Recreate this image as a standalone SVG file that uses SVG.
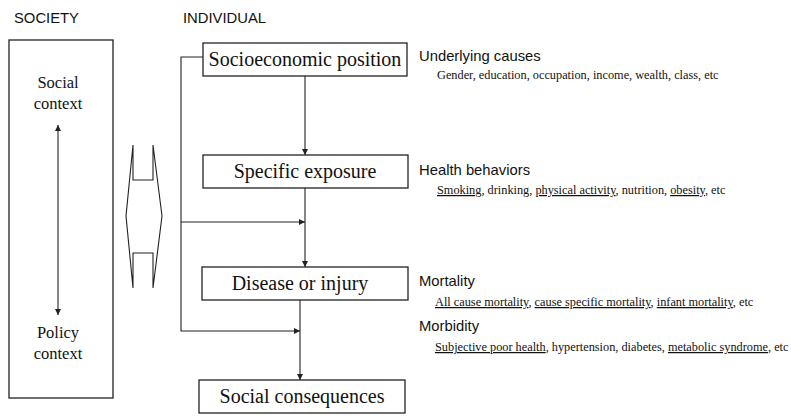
<svg xmlns="http://www.w3.org/2000/svg" width="791" height="416" viewBox="0 0 791 416">
<style>
.bx{fill:#fff;stroke:#222;stroke-width:1.3}
.ln{fill:none;stroke:#222;stroke-width:1.1}
.bt{font-family:"Liberation Serif","Times New Roman",serif;font-size:20px;fill:#111;text-anchor:middle}
.ct{font-family:"Liberation Serif","Times New Roman",serif;font-size:16.5px;fill:#111;text-anchor:middle}
.hd{font-family:"Liberation Sans",Arial,sans-serif;font-size:14.8px;fill:#111}
.sm{font-family:"Liberation Serif","Times New Roman",serif;font-size:12.3px;fill:#111}
.u{text-decoration:underline}
</style>
<defs>
<marker id="ah" viewBox="0 0 10 10" refX="10" refY="5" markerWidth="6" markerHeight="6" orient="auto-start-reverse" markerUnits="userSpaceOnUse">
<path d="M0,0 L10,5 L0,10 Z" fill="#222"/>
</marker>
</defs>
<rect width="791" height="416" fill="#fff"/>
<text class="hd" x="14" y="23">SOCIETY</text>
<text class="hd" x="183" y="23">INDIVIDUAL</text>

<g id="society">
<rect class="bx" x="9" y="40" width="104" height="358"/>
<text class="ct" x="58" y="88">Social</text>
<text class="ct" x="58" y="109">context</text>
<text class="ct" x="58" y="338">Policy</text>
<text class="ct" x="58" y="359">context</text>
<line class="ln" x1="58" y1="125" x2="58" y2="315" marker-start="url(#ah)" marker-end="url(#ah)"/>
</g>

<g id="link">
<path class="ln" d="M133,145 L133,180 L153,180 L153,145 L162,216 L153,288 L153,253 L133,253 L133,288 L126,216 Z"/>
</g>

<g id="socioeconomic">
<rect class="bx" x="203" y="43" width="204" height="33"/>
<text class="bt" x="305" y="66">Socioeconomic position</text>
</g>
<g id="exposure">
<rect class="bx" x="203" y="155" width="205" height="33"/>
<text class="bt" x="305" y="178">Specific exposure</text>
</g>
<g id="disease">
<rect class="bx" x="202" y="267" width="206" height="33"/>
<text class="bt" x="300" y="290">Disease or injury</text>
</g>
<g id="consequences">
<rect class="bx" x="199" y="380" width="206" height="33"/>
<text class="bt" x="302" y="403">Social consequences</text>
</g>

<g id="connectors">
<line class="ln" x1="305" y1="76" x2="305" y2="155" marker-end="url(#ah)"/>
<line class="ln" x1="305" y1="188" x2="305" y2="267" marker-end="url(#ah)"/>
<line class="ln" x1="300" y1="300" x2="300" y2="380" stroke-width="1.8" marker-end="url(#ah)"/>
<polyline class="ln" points="203,57 181,57 181,331 300,331" marker-end="url(#ah)"/>
<line class="ln" x1="181" y1="222" x2="305" y2="222" marker-end="url(#ah)"/>
</g>

<g id="annotations">
<text class="hd" x="419" y="61">Underlying causes</text>
<text class="sm" x="437" y="79">Gender, education, occupation, income, wealth, class, etc</text>
<text class="hd" x="419" y="175">Health behaviors</text>
<text class="sm" x="437" y="194"><tspan class="u">Smoking</tspan>, drinking, <tspan class="u">physical activity</tspan>, nutrition, <tspan class="u">obesity</tspan>, etc</text>
<text class="hd" x="419" y="286">Mortality</text>
<text class="sm" x="435" y="306"><tspan class="u">All cause mortality</tspan>, <tspan class="u">cause specific mortality</tspan>, <tspan class="u">infant mortality</tspan>, etc</text>
<text class="hd" x="419" y="331">Morbidity</text>
<text class="sm" x="435" y="351"><tspan class="u">Subjective poor health</tspan>, hypertension, diabetes, <tspan class="u">metabolic syndrome</tspan>, etc</text>
</g>
</svg>
